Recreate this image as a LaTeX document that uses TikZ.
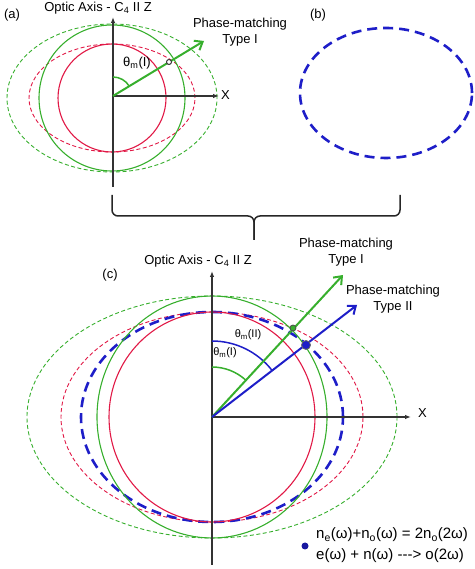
\documentclass[tikz,border=0pt]{standalone}
\usepackage{fontspec}
\setmainfont{Liberation Sans}
\usetikzlibrary{arrows.meta}
\definecolor{pmgreen}{RGB}{55,175,45}
\definecolor{pmred}{RGB}{225,25,70}
\definecolor{pmblue}{RGB}{30,30,200}
\tikzset{
  axisline/.style={draw=black!80, line width=1.1pt, -{Latex[length=6pt,width=4.5pt]}},
  lbl/.style={font=\fontsize{13}{16}\selectfont, inner sep=0pt, align=center},
  anglbl/.style={font=\fontsize{11}{13}\selectfont, inner sep=0pt},
  pmarrow/.style={line width=2pt, -{Straight Barb[length=7pt,width=11pt]}},
  solidring/.style={line width=1.1pt},
  thinring/.style={line width=0.9pt, dash pattern=on 4pt off 2.5pt},
  bluering/.style={pmblue, line width=2.6pt, dash pattern=on 10pt off 6pt},
}
\begin{document}
\begin{tikzpicture}[x=1pt,y=1pt]
    \useasboundingbox (0,0) rectangle (474,569);
    % panel (a)
    \coordinate (oa) at (113,473);
    \coordinate (ca) at (112,471);
    \coordinate (za0) at (113,382);
    \coordinate (za1) at (113,552);
    \coordinate (xa1) at (219,473);
    \coordinate (pa) at (204,528);
    \draw[pmgreen, thinring] (ca) ellipse [x radius=105pt, y radius=74pt];
    \draw[pmred, thinring] (ca) ellipse [x radius=83pt, y radius=54pt];
    \draw[pmgreen, solidring] (ca) circle (73pt);
    \draw[pmred, solidring] (ca) circle (54pt);
    \draw[axisline] (za0) -- (za1);
    \draw[axisline] (oa) -- (xa1);
    \node[lbl, anchor=west] (xa) at (221,474) {X};
    \draw[pmgreen, line width=1.5pt] (oa) ++(90:19pt) arc[start angle=90, end angle=31, radius=19pt];
    \draw[pmgreen, pmarrow] (oa) -- (pa);
    \node[circle, draw=black!80, fill=white, line width=1pt, inner sep=0pt, minimum size=5pt] (ma) at (169,507) {};
    \node[anglbl, font=\fontsize{13}{15}\selectfont] (tha) at (137,506) {θ\textsubscript{m}(I)};
    \node[lbl] (axa) at (98,561) {Optic Axis - C\textsubscript{4} II Z};
    \node[lbl] (taga) at (12,554) {(a)};
    \node[lbl] (pma) at (240,537) {Phase-matching\\Type I};
    % panel (b)
    \node[lbl] (tagb) at (318,554) {(b)};
    \coordinate (cb) at (386,476);
    \draw[bluering] (cb) ellipse [x radius=86pt, y radius=65pt];
    % brace
    \coordinate (bl) at (112,374);
    \coordinate (bm) at (254,353);
    \coordinate (bt) at (254,329);
    \coordinate (br) at (400,374);
    \draw[black!85, line width=1.5pt, rounded corners=6pt] (bl) |- (bm) -- (bt);
    \draw[black!85, line width=1.5pt, rounded corners=6pt] (bt) -- (bm) -| (br);
    % panel (c)
    \coordinate (oc) at (212,152);
    \coordinate (zc0) at (212,4);
    \coordinate (zc1) at (212,298);
    \coordinate (xc1) at (411,152);
    \coordinate (pc1) at (343,294);
    \coordinate (pc2) at (357,264);
    \draw[pmgreen, thinring] (oc) ellipse [x radius=185pt, y radius=121pt];
    \draw[pmred, thinring] (oc) ellipse [x radius=151pt, y radius=105pt];
    \draw[bluering] (oc) ellipse [x radius=131pt, y radius=105pt];
    \draw[pmgreen, solidring] (oc) ellipse [x radius=115pt, y radius=121pt];
    \draw[pmred, solidring] (oc) ellipse [x radius=103pt, y radius=105pt];
    \draw[axisline] (zc0) -- (zc1);
    \draw[axisline] (oc) -- (xc1);
    \node[lbl, anchor=west] (xc) at (418,156) {X};
    \draw[pmgreen, line width=1.5pt] (oc) ++(90:50pt) arc[start angle=90, end angle=47.3, radius=50pt];
    \draw[pmblue, line width=1.5pt] (oc) ++(90:76pt) arc[start angle=90, end angle=37.7, radius=76pt];
    \draw[pmgreen, pmarrow] (oc) -- (pc1);
    \draw[pmblue, pmarrow] (oc) -- (pc2);
    \node[circle, draw=black!70, fill=pmgreen, line width=0.8pt, inner sep=0pt, minimum size=6pt] (mc1) at (293,241) {};
    \node[circle, draw=black!60, fill=pmblue, line width=0.8pt, inner sep=0pt, minimum size=9pt] (mc2) at (306,224) {};
    \node[anglbl] (thc2) at (248,234) {θ\textsubscript{m}(II)};
    \node[anglbl] (thc1) at (225,216) {θ\textsubscript{m}(I)};
    \node[lbl] (axc) at (198,308) {Optic Axis - C\textsubscript{4} II Z};
    \node[lbl] (tagc) at (110,294) {(c)};
    \node[lbl] (pmc1) at (346,317) {Phase-matching\\Type I};
    \node[lbl] (pmc2) at (393,270) {Phase-matching\\Type II};
    % legend
    \node[circle, fill=pmblue!80!black, inner sep=0pt, minimum size=7pt] (dot) at (305,23) {};
    \node[lbl, font=\fontsize{15}{21}\selectfont, align=left, anchor=west] (leg) at (316,23.5)
        {n\textsubscript{e}(ω)+n\textsubscript{o}(ω) = 2n\textsubscript{o}(2ω)\\e(ω) + n(ω) {-}{-}{-}> o(2ω)};
\end{tikzpicture}
\end{document}
